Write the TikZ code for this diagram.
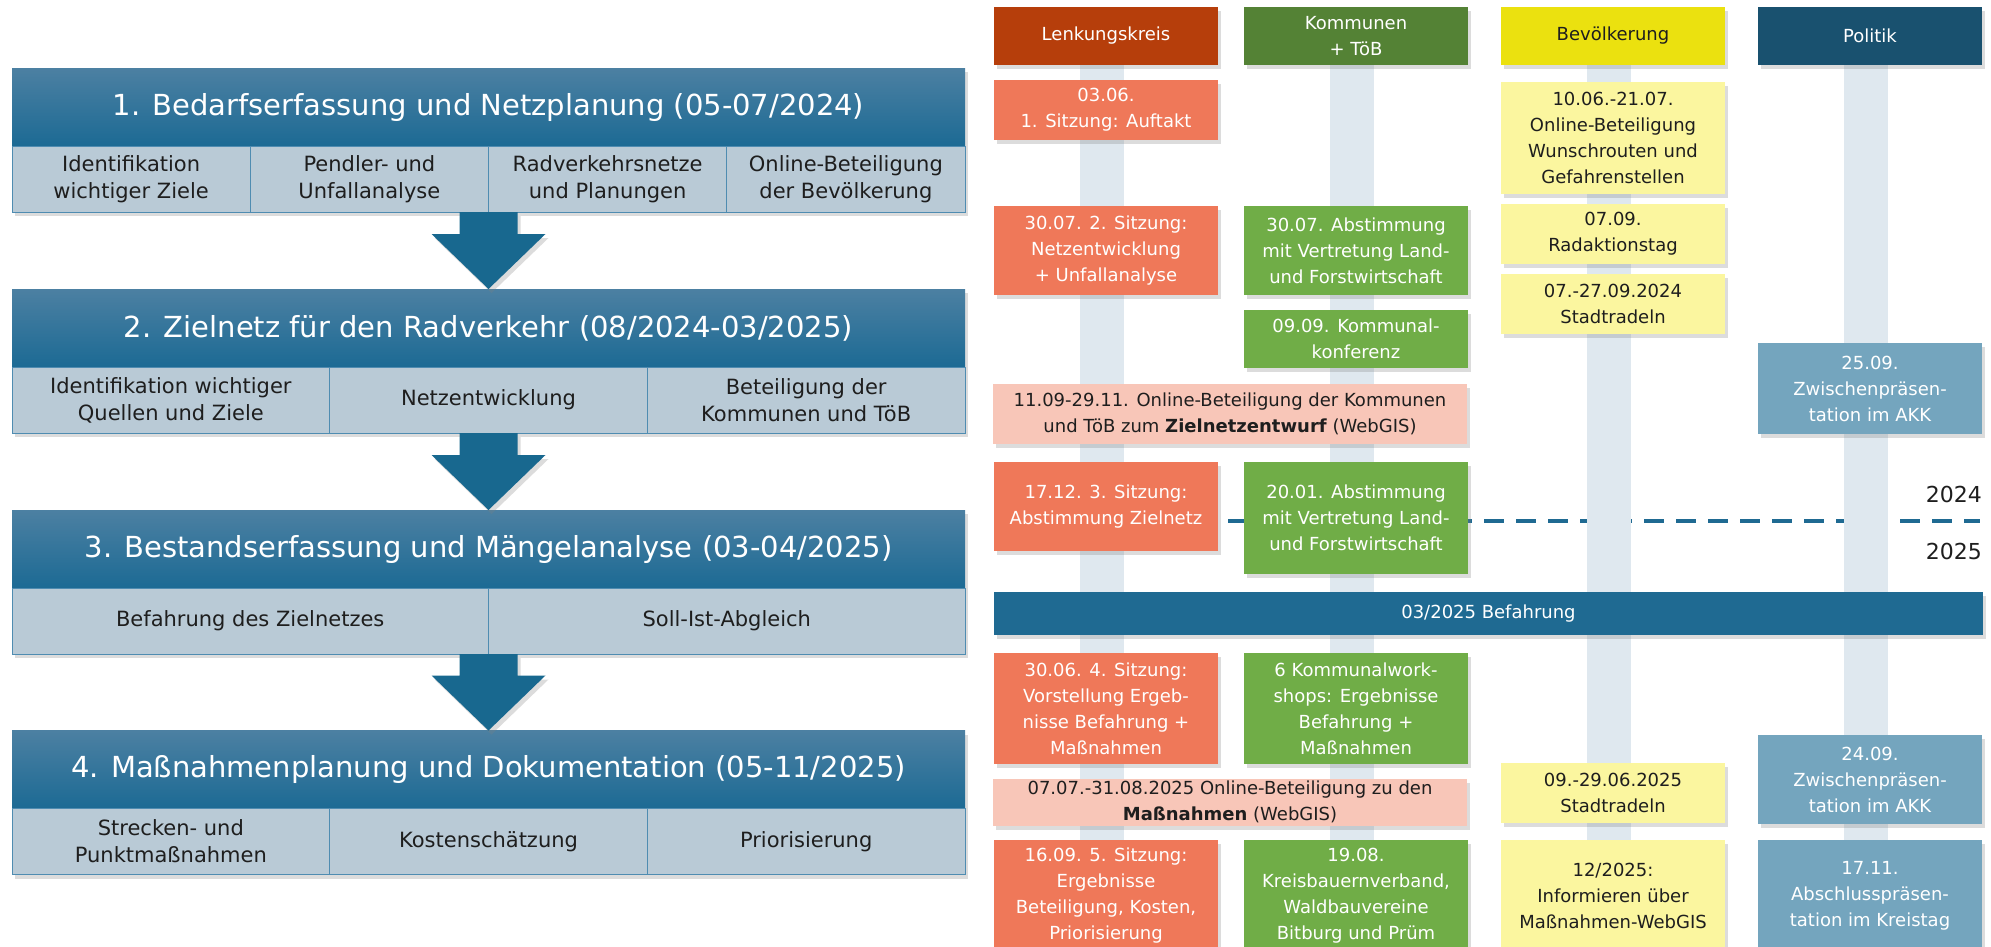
\documentclass[tikz,border=0pt]{standalone}
\usepackage{fontspec}
\setmainfont{DejaVu Sans}
\usetikzlibrary{positioning,calc,shadows,backgrounds}

\definecolor{headtop}{HTML}{4C80A2}
\definecolor{headbot}{HTML}{1C6A94}
\definecolor{subfill}{HTML}{B9CAD6}
\definecolor{subline}{HTML}{4F8CB1}
\definecolor{arrowfill}{HTML}{18688F}
\definecolor{lkhead}{HTML}{B63E0B}
\definecolor{kmhead}{HTML}{548235}
\definecolor{bvhead}{HTML}{EBE10F}
\definecolor{pohead}{HTML}{19516F}
\definecolor{lkfill}{HTML}{EF7859}
\definecolor{kmfill}{HTML}{70AD47}
\definecolor{bvfill}{HTML}{FBF69F}
\definecolor{pofill}{HTML}{74A5BE}
\definecolor{pinkfill}{HTML}{F8C6B8}
\definecolor{barblue}{HTML}{1F6A92}
\definecolor{lanefill}{HTML}{DFE8EF}
\definecolor{textdark}{HTML}{1E1E1E}

\tikzset{shade box/.style={drop shadow={shadow xshift=3pt, shadow yshift=-4pt, opacity=0.28}},
phasehead/.style={top color=headtop, bottom color=headbot, text=white, minimum width=953, minimum height=78, inner sep=0pt, outer sep=0pt, font=\fontsize{29}{35}\selectfont, shade box},
subcell/.style={fill=subfill, draw=subline, line width=1pt, text=textdark, minimum height=66, inner sep=0pt, outer sep=0pt, align=center, font=\fontsize{21}{27}\selectfont, shade box},
%boxes of the timeline
evt/.style={minimum width=224, inner sep=0pt, outer sep=0pt, align=center, font=\fontsize{18}{26}\selectfont, shade box},
colhead/.style={evt, minimum height=58},
lkbox/.style={evt, fill=lkfill, text=white},
kmbox/.style={evt, fill=kmfill, text=white},
bvbox/.style={evt, fill=bvfill, text=textdark},
pobox/.style={evt, fill=pofill, text=white},
pinkbox/.style={evt, fill=pinkfill, text=textdark, minimum width=474},
lane/.style={fill=lanefill},
yearline/.style={draw=barblue, line width=4pt, dash pattern=on 20pt off 12pt},
yearlbl/.style={inner sep=0pt, anchor=east, text=textdark, font=\fontsize{22}{26}\selectfont}
}

% block arrow from the bottom of one phase to the top of the next
\newcommand{\phasearrow}[2]{%
\fill[arrowfill, shade box] ($(#1)+(-29,0)$) -- ($(#1)+(29,0)$) -- ($(#2)+(29,-55)$) -- ($(#2)+(57,-55)$) -- (#2) -- ($(#2)+(-57,-55)$) -- ($(#2)+(-29,-55)$) -- cycle;}

\begin{document}
\begin{tikzpicture}[x=1pt, y=-1pt]
\useasboundingbox (0,0) rectangle (1991,946);

% phases
\node[phasehead] (p1) at (488.5,107) {1. Bedarfserfassung und Netzplanung (05-07/2024)};
\node[subcell, minimum width=238.25, anchor=north west] (c11) at (p1.south west) {Identifikation\\wichtiger Ziele};
\node[subcell, minimum width=238.25, right=0pt of c11] (c12) {Pendler- und\\Unfallanalyse};
\node[subcell, minimum width=238.25, right=0pt of c12] (c13) {Radverkehrsnetze\\und Planungen};
\node[subcell, minimum width=238.25, right=0pt of c13] (c14) {Online-Beteiligung\\der Bevölkerung};

\node[phasehead] (p2) at (488.5,328) {2. Zielnetz für den Radverkehr (08/2024-03/2025)};
\node[subcell, minimum width=317.67, anchor=north west] (c21) at (p2.south west) {Identifikation wichtiger\\Quellen und Ziele};
\node[subcell, minimum width=317.67, right=0pt of c21] (c22) {Netzentwicklung};
\node[subcell, minimum width=317.67, right=0pt of c22] (c23) {Beteiligung der\\Kommunen und TöB};

\node[phasehead] (p3) at (488.5,549) {3. Bestandserfassung und Mängelanalyse (03-04/2025)};
\node[subcell, minimum width=476.5, anchor=north west] (c31) at (p3.south west) {Befahrung des Zielnetzes};
\node[subcell, minimum width=476.5, right=0pt of c31] (c32) {Soll-Ist-Abgleich};

\node[phasehead] (p4) at (488.5,769.5) {4. Maßnahmenplanung und Dokumentation (05-11/2025)};
\node[subcell, minimum width=317.67, anchor=north west] (c41) at (p4.south west) {Strecken- und\\Punktmaßnahmen};
\node[subcell, minimum width=317.67, right=0pt of c41] (c42) {Kostenschätzung};
\node[subcell, minimum width=317.67, right=0pt of c42] (c43) {Priorisierung};

%arrows
\coordinate (a1) at (p1.south |- c11.south);
\coordinate (a2) at (p2.south |- c21.south);
\coordinate (a3) at (p3.south |- c31.south);
\phasearrow{a1}{p2.north}
\phasearrow{a2}{p3.north}
\phasearrow{a3}{p4.north}

% column heads
\node[colhead, fill=lkhead, text=white] (hL) at (1106,36) {Lenkungskreis};
\node[colhead, fill=kmhead, text=white] (hK) at (1356,36) {Kommunen\\+ TöB};
\node[colhead, fill=bvhead, text=textdark] (hB) at (1613,36) {Bevölkerung};
\node[colhead, fill=pohead, text=white] (hP) at (1870,36) {Politik};

% 2024
\node[lkbox, minimum height=60] (l1) at (1106,110) {03.06.\\1. Sitzung: Auftakt};
\node[bvbox, minimum height=112] (b1) at (1613,138) {10.06.-21.07.\\Online-Beteiligung\\Wunschrouten und\\Gefahrenstellen};
\node[lkbox, minimum height=89] (l2) at (1106,250.5) {30.07. 2. Sitzung:\\Netzentwicklung\\+ Unfallanalyse};
\node[kmbox, minimum height=89] (k1) at (1356,250.5) {30.07. Abstimmung\\mit Vertretung Land-\\und Forstwirtschaft};
\node[bvbox, minimum height=60] (b2) at (1613,234) {07.09.\\Radaktionstag};
\node[bvbox, minimum height=60] (b3) at (1613,304) {07.-27.09.2024\\Stadtradeln};
\node[kmbox, minimum height=58] (k2) at (1356,339) {09.09. Kommunal-\\konferenz};
\node[pobox, minimum height=91] (o1) at (1870,388.5) {25.09.\\Zwischenpräsen-\\tation im AKK};
\node[pinkbox, minimum height=60] (w1) at (1230,414) {11.09-29.11. Online-Beteiligung der Kommunen\\und TöB zum \textbf{Zielnetzentwurf} (WebGIS)};
\node[lkbox, minimum height=89] (l3) at (1106,506.5) {17.12. 3. Sitzung:\\Abstimmung Zielnetz};
\node[kmbox, minimum height=112] (k3) at (1356,518) {20.01. Abstimmung\\mit Vertretung Land-\\und Forstwirtschaft};

% turn of the year
\node[yearlbl] (y24) at (1982,494) {2024};
\node[yearlbl] (y25) at (1982,551) {2025};
\node[evt, fill=barblue, text=white, minimum width=989, minimum height=43] (bef) at (1488.5,613.5) {03/2025 Befahrung};

% 2025
\node[lkbox, minimum height=111] (l4) at (1106,708.5) {30.06. 4. Sitzung:\\Vorstellung Ergeb-\\nisse Befahrung +\\Maßnahmen};
\node[kmbox, minimum height=111] (k4) at (1356,708.5) {6 Kommunalwork-\\shops: Ergebnisse\\Befahrung +\\Maßnahmen};
\node[pobox, minimum height=89] (o2) at (1870,779.5) {24.09.\\Zwischenpräsen-\\tation im AKK};
\node[pinkbox, minimum height=47] (w2) at (1230,802) {07.07.-31.08.2025 Online-Beteiligung zu den\\\textbf{Maßnahmen} (WebGIS)};
\node[bvbox, minimum height=60] (b4) at (1613,793) {09.-29.06.2025\\Stadtradeln};
\node[lkbox, minimum height=113] (l5) at (1106,896) {16.09. 5. Sitzung:\\Ergebnisse\\Beteiligung, Kosten,\\Priorisierung};
\node[kmbox, minimum height=113] (k5) at (1356,896) {19.08.\\Kreisbauernverband,\\Waldbauvereine\\Bitburg und Prüm};
\node[bvbox, minimum height=113] (b5) at (1613,896) {12/2025:\\Informieren über\\Maßnahmen-WebGIS};
\node[pobox, minimum height=113] (o3) at (1870,896) {17.11.\\Abschlusspräsen-\\tation im Kreistag};

% lanes and year line behind the boxes
\begin{scope}[on background layer]
\coordinate (yr) at (1980,521);
\draw[yearline] ($(l3.east |- yr)+(10,0)$) -- (yr);
\foreach \h in {hL,hK,hB,hP}
    \fill[lane] ($(\h.south)+(-26,0)$) rectangle ($(\h.south)+(18,881)$);
\end{scope}

\end{tikzpicture}
\end{document}
